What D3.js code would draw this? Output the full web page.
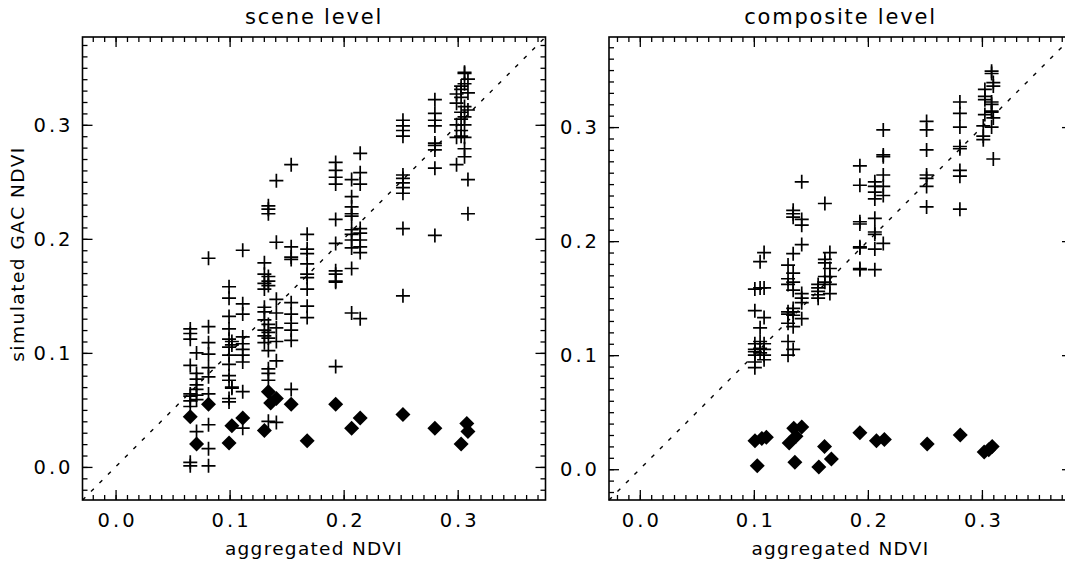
<!DOCTYPE html>
<html>
<head>
<meta charset="utf-8">
<script src="https://cdn.jsdelivr.net/npm/d3@7"></script>
<style>
  body { margin: 0; background: #fff; }
  text { font-family: "DejaVu Sans", sans-serif; fill: #000; }
</style>
</head>
<body>
<div id="chart"></div>
<script>
// values, one x per column of crosses
const sceneCrossX = [0.0655, 0.071, 0.0815, 0.0995, 0.102, 0.1115, 0.1305, 0.134, 0.141, 0.154,
  0.168, 0.193, 0.207, 0.2145, 0.252, 0.280, 0.299, 0.303, 0.306, 0.309];
const sceneCrossY = [
  [0.121, 0.117, 0.112, 0.089, 0.064, 0.062, 0.058, 0.053, 0.004, 0.001],
  [0.100, 0.082, 0.077, 0.072, 0.068, 0.063, 0.059, 0.031],
  [0.183, 0.123, 0.109, 0.099, 0.087, 0.079, 0.064, 0.037, 0.016, 0.001],
  [0.158, 0.148, 0.132, 0.121, 0.112, 0.105, 0.098, 0.090, 0.080, 0.076, 0.060, 0.057],
  [0.110, 0.107, 0.069, 0.070],
  [0.190, 0.143, 0.134, 0.114, 0.108, 0.103, 0.098, 0.092, 0.066, 0.034],
  [0.179, 0.169, 0.161, 0.156, 0.140, 0.136, 0.129, 0.120, 0.115, 0.109],
  [0.229, 0.226, 0.222, 0.167, 0.163, 0.159, 0.125, 0.118, 0.113, 0.102, 0.086, 0.082, 0.076, 0.040],
  [0.251, 0.197, 0.147, 0.135, 0.122, 0.110, 0.093, 0.039],
  [0.265, 0.193, 0.184, 0.182, 0.144, 0.134, 0.126, 0.120, 0.111, 0.068],
  [0.204, 0.191, 0.187, 0.178, 0.169, 0.166, 0.156, 0.141, 0.131],
  [0.267, 0.260, 0.254, 0.248, 0.217, 0.196, 0.172, 0.169, 0.163, 0.162, 0.088],
  [0.252, 0.237, 0.228, 0.222, 0.220, 0.208, 0.204, 0.199, 0.192, 0.174, 0.135],
  [0.275, 0.258, 0.248, 0.209, 0.205, 0.199, 0.193, 0.188, 0.130],
  [0.304, 0.299, 0.295, 0.290, 0.256, 0.253, 0.249, 0.245, 0.240, 0.209, 0.150],
  [0.322, 0.310, 0.304, 0.299, 0.284, 0.282, 0.278, 0.262, 0.203],
  [0.327, 0.319, 0.300, 0.289, 0.265],
  [0.334, 0.331, 0.324, 0.311, 0.305, 0.295, 0.290],
  [0.346, 0.345, 0.336, 0.316, 0.307, 0.300, 0.289, 0.279, 0.272],
  [0.340, 0.328, 0.313, 0.252, 0.222]
];
const sceneDiamondX = [0.0655, 0.071, 0.0815, 0.0995, 0.102, 0.1115, 0.1305, 0.134, 0.136, 0.141,
  0.154, 0.168, 0.193, 0.207, 0.2145, 0.252, 0.280, 0.303, 0.308, 0.309];
const sceneDiamondY = [0.044, 0.020, 0.055, 0.021, 0.036, 0.043, 0.032, 0.066, 0.056, 0.060,
  0.055, 0.023, 0.055, 0.034, 0.043, 0.046, 0.034, 0.020, 0.038, 0.031];

const compositeCrossX = [0.1009, 0.1055, 0.109, 0.130, 0.1345, 0.142, 0.1564, 0.1623, 0.1667,
  0.193, 0.2061, 0.2135, 0.2515, 0.2807, 0.3012, 0.3026, 0.3085, 0.310];
const compositeCrossY = [
  [0.158, 0.139, 0.110, 0.105, 0.103, 0.100, 0.094, 0.089],
  [0.182, 0.159, 0.124, 0.112, 0.106, 0.102],
  [0.190, 0.159, 0.133, 0.110, 0.105, 0.100, 0.096],
  [0.179, 0.167, 0.162, 0.138, 0.136, 0.128, 0.112, 0.100],
  [0.227, 0.224, 0.221, 0.189, 0.172, 0.164, 0.157, 0.141, 0.138, 0.135, 0.125, 0.105],
  [0.252, 0.219, 0.214, 0.197, 0.154, 0.150, 0.146, 0.132],
  [0.162, 0.159, 0.156, 0.153, 0.150],
  [0.233, 0.184, 0.181, 0.169, 0.164],
  [0.190, 0.176, 0.169, 0.162, 0.154],
  [0.266, 0.249, 0.217, 0.215, 0.195, 0.194, 0.176, 0.175],
  [0.252, 0.248, 0.243, 0.237, 0.220, 0.208, 0.206, 0.193, 0.175],
  [0.2975, 0.2756, 0.274, 0.258, 0.248, 0.240, 0.198],
  [0.305, 0.2975, 0.280, 0.258, 0.255, 0.248, 0.230],
  [0.322, 0.312, 0.300, 0.283, 0.281, 0.262, 0.257, 0.228],
  [0.301, 0.292, 0.289],
  [0.333, 0.327, 0.324, 0.311],
  [0.349, 0.347, 0.322, 0.320, 0.314, 0.313, 0.300],
  [0.339, 0.336, 0.308, 0.272]
];
const compositeDiamondX = [0.101, 0.107, 0.111, 0.103, 0.131, 0.135, 0.137, 0.142, 0.136, 0.162,
  0.157, 0.168, 0.193, 0.2075, 0.2145, 0.252, 0.281, 0.302, 0.306, 0.309];
const compositeDiamondY = [0.025, 0.027, 0.028, 0.003, 0.023, 0.036, 0.029, 0.037, 0.006, 0.020,
  0.002, 0.009, 0.032, 0.025, 0.026, 0.022, 0.030, 0.015, 0.017, 0.020];

const majorTicks = [0.0, 0.1, 0.2, 0.3];
const tickLabels = ["0.0", "0.1", "0.2", "0.3"];
const minorTicks = d3.range(-3, 38).map(function(i) { return i / 100; });

const width = 1065, height = 568;

var svg = d3.select("#chart").append("svg")
  .attr("width", width)
  .attr("height", height);

function drawPanel(o) {
  var x = d3.scaleLinear().domain(o.domain).range([o.left, o.left + 463]);
  var y = d3.scaleLinear().domain(o.domain).range([500, 37]);
  var g = svg.append("g");

  // frame
  g.append("rect")
    .attr("x", x.range()[0]).attr("y", 37)
    .attr("width", 463).attr("height", 463)
    .attr("fill", "none").attr("stroke", "#000").attr("stroke-width", 1.6);

  // ticks pointing inward on all four sides
  function ticks(axis, pos, vals, len, pad) {
    var a = axis.tickValues(vals).tickSizeInner(-len).tickSizeOuter(0)
      .tickPadding(pad || 0)
      .tickFormat(function(d) { return pad ? tickLabels[majorTicks.indexOf(d)] : ""; });
    var ag = g.append("g").attr("transform", pos).call(a);
    ag.select(".domain").remove();
    ag.selectAll("line").attr("stroke", "#000").attr("stroke-width", 1.3);
    ag.selectAll("text").style("font-size", "19.5px").style("letter-spacing", "3px")
      .style("font-family", "DejaVu Sans");
  }
  var minorIn = minorTicks.filter(function(d) { return d > o.domain[0] && d < o.domain[1]; });
  ticks(d3.axisBottom(x), "translate(0,500)", minorIn, 5);
  ticks(d3.axisTop(x), "translate(0,37)", minorIn, 5);
  ticks(d3.axisLeft(y), "translate(" + x.range()[0] + ",0)", minorIn, 5);
  ticks(d3.axisRight(y), "translate(" + x.range()[1] + ",0)", minorIn, 5);
  ticks(d3.axisBottom(x), "translate(0,500)", majorTicks, 10, 13);
  ticks(d3.axisTop(x), "translate(0,37)", majorTicks, 10);
  ticks(d3.axisLeft(y), "translate(" + x.range()[0] + ",0)", majorTicks, 10, 9);
  ticks(d3.axisRight(y), "translate(" + x.range()[1] + ",0)", majorTicks, 10);
  // letter-spacing leaves a trailing gap, nudge centred x labels back
  g.selectAll("text").filter(function() { return this.getAttribute("dy") === "0.71em"; })
    .attr("dx", "1.5");

  // 1:1 line
  g.append("line")
    .attr("x1", x(o.domain[0])).attr("y1", y(o.domain[0]))
    .attr("x2", x(o.domain[1])).attr("y2", y(o.domain[1]))
    .attr("stroke", "#000").attr("stroke-width", 1.4)
    .attr("stroke-dasharray", "4,8");

  var crosses = [];
  o.crossX.forEach(function(cx, i) {
    o.crossY[i].forEach(function(cy) { crosses.push([cx, cy]); });
  });
  g.selectAll("path.cross").data(crosses).enter().append("path")
    .attr("class", "cross")
    .attr("d", function(d) {
      return "M" + (x(d[0]) - 7) + "," + y(d[1]) + "h14M" + x(d[0]) + "," + (y(d[1]) - 7) + "v14";
    })
    .attr("stroke", "#000").attr("stroke-width", 1.7).attr("fill", "none");

  g.selectAll("path.dia").data(o.diaX).enter().append("path")
    .attr("class", "dia")
    .attr("d", function(d, i) {
      var px = x(d), py = y(o.diaY[i]);
      return "M" + px + "," + (py - 7.5) + "L" + (px + 7.5) + "," + py + "L" + px + "," + (py + 7.5) + "L" + (px - 7.5) + "," + py + "Z";
    })
    .attr("fill", "#000");

  // titles
  var cx = (x.range()[0] + x.range()[1]) / 2;
  g.append("text").attr("x", cx).attr("y", 24).attr("text-anchor", "middle")
    .style("font-size", "21px").style("letter-spacing", "1.8px").text(o.title);
  g.append("text").attr("x", cx).attr("y", 555).attr("text-anchor", "middle")
    .style("font-size", "18.5px").style("letter-spacing", "1.3px").text("aggregated NDVI");
  if (o.yTitle) {
    g.append("text").attr("transform", "translate(24,254) rotate(-90)")
      .attr("text-anchor", "middle")
      .style("font-size", "18.5px").style("letter-spacing", "1.5px").text(o.yTitle);
  }
}

drawPanel({
  title: "scene level", yTitle: "simulated GAC NDVI",
  domain: [-0.029, 0.377], left: 82.5,
  crossX: sceneCrossX, crossY: sceneCrossY, diaX: sceneDiamondX, diaY: sceneDiamondY
});
drawPanel({
  title: "composite level", yTitle: null,
  domain: [-0.027, 0.379], left: 609,
  crossX: compositeCrossX, crossY: compositeCrossY, diaX: compositeDiamondX, diaY: compositeDiamondY
});
</script>
</body>
</html>
